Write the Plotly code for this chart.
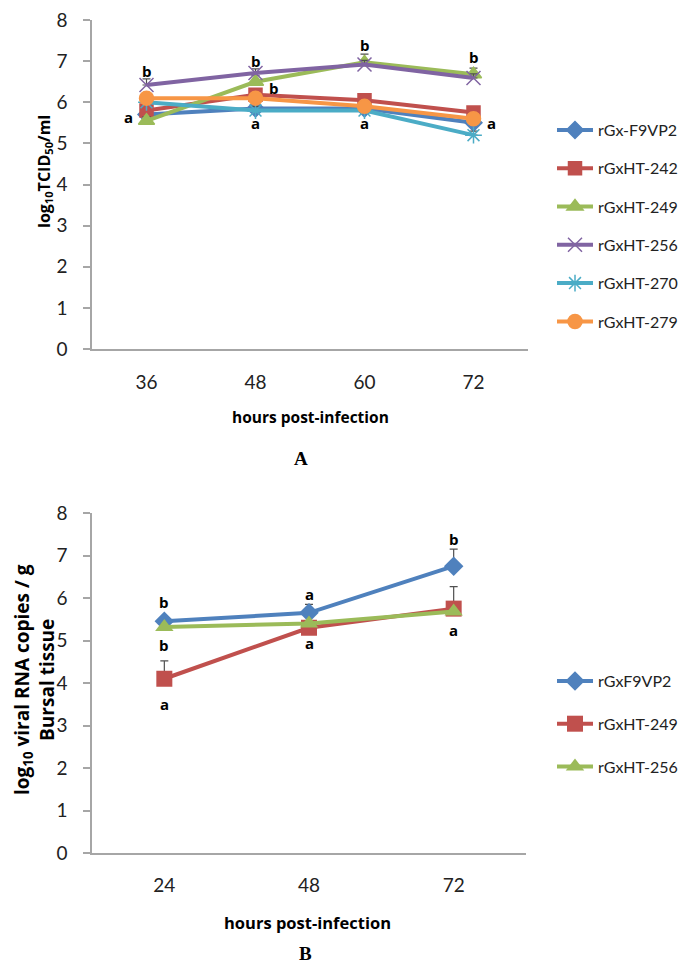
import plotly.graph_objects as go

# ---------------- data: panel A ----------------
hours_A = ["36", "48", "60", "72"]
series_A = ["rGx-F9VP2", "rGxHT-242", "rGxHT-249", "rGxHT-256", "rGxHT-270", "rGxHT-279"]
f9vp2_A = [5.7, 5.85, 5.85, 5.5]
ht242_A = [5.8, 6.18, 6.05, 5.75]
ht249_A = [5.55, 6.5, 6.97, 6.68]
ht256_A = [6.42, 6.71, 6.92, 6.59]
ht270_A = [6.0, 5.8, 5.8, 5.2]
ht279_A = [6.1, 6.1, 5.9, 5.6]
err_f9vp2_A = [0.1, 0.1, 0.1, 0.1]
err_ht242_A = [0.1, 0.1, 0.1, 0.1]
err_ht249_A = [0.1, 0.15, 0.2, 0.15]
err_ht256_A = [0.15, 0.1, 0.1, 0.1]
err_ht270_A = [0.1, 0.1, 0.1, 0.1]
err_ht279_A = [0.1, 0.1, 0.1, 0.1]
letters_A_x = ["36", "36", "48", "48", "48", "60", "60", "72", "72"]
letters_A_y = [6.75, 5.65, 7.0, 6.35, 5.5, 7.4, 5.5, 7.1, 5.5]
letters_A_t = ["b", "a", "b", "b", "a", "b", "a", "b", "a"]
letters_A_side = [0, -1, 0, 1, 0, 0, 0, 0, 1]

# ---------------- data: panel B ----------------
hours_B = ["24", "48", "72"]
series_B = ["rGxF9VP2", "rGxHT-249", "rGxHT-256"]
f9vp2_B = [5.45, 5.65, 6.75]
ht249_B = [4.1, 5.3, 5.75]
ht256_B = [5.32, 5.4, 5.68]
err_f9vp2_B = [0.1, 0.2, 0.4]
err_ht249_B = [0.42, 0.1, 0.52]
err_ht256_B = [0.05, 0.05, 0.05]
letters_B_x = ["24", "24", "24", "48", "48", "72", "72"]
letters_B_y = [5.9, 4.9, 3.5, 6.1, 4.95, 7.4, 5.25]
letters_B_t = ["b", "b", "a", "a", "a", "b", "a"]

y_ticks = [0, 1, 2, 3, 4, 5, 6, 7, 8]

# ---------------- styles ----------------
BLUE, RED, GREEN, PURPLE, CYAN, ORANGE = "#4F81BD", "#C0504D", "#9BBB59", "#8064A2", "#4BACC6", "#F79646"
FONT = "Lato"
W, H = 698, 972


def px_x(x):
    return x / W


def px_y(y):
    return 1 - y / H


pos_A = list(range(len(hours_A)))
pos_B = list(range(len(hours_B)))

fig = go.Figure()

styles_A = [
    (BLUE, "diamond", 13),
    (RED, "square", 13),
    (GREEN, "triangle-up", 14),
    (PURPLE, "x-thin-open", 14),
    (CYAN, "asterisk-open", 14),
    (ORANGE, "circle", 14),
]
vals_A = [f9vp2_A, ht242_A, ht249_A, ht256_A, ht270_A, ht279_A]
errs_A = [err_f9vp2_A, err_ht242_A, err_ht249_A, err_ht256_A, err_ht270_A, err_ht279_A]

for name, vals, errs, (col, sym, sz) in zip(series_A, vals_A, errs_A, styles_A):
    fig.add_trace(go.Scatter(
        x=pos_A, y=vals, name=name, mode="lines+markers",
        line=dict(color=col, width=4),
        marker=dict(symbol=sym, size=sz, color=col, line=dict(color=col, width=1.5)),
        error_y=dict(type="data", array=errs, arrayminus=[0] * len(errs), symmetric=False,
                     color="#505050", thickness=1.2, width=4),
        xaxis="x", yaxis="y", legend="legend", legendgroup=name,
    ))

styles_B = [
    (BLUE, "diamond", 15),
    (RED, "square", 16),
    (GREEN, "triangle-up", 16),
]
vals_B = [f9vp2_B, ht249_B, ht256_B]
errs_B = [err_f9vp2_B, err_ht249_B, err_ht256_B]
for name, vals, errs, (col, sym, sz) in zip(series_B, vals_B, errs_B, styles_B):
    fig.add_trace(go.Scatter(
        x=pos_B, y=vals, name=name, mode="lines+markers",
        line=dict(color=col, width=4),
        marker=dict(symbol=sym, size=sz, color=col),
        error_y=dict(type="data", array=errs, arrayminus=[0] * len(errs), symmetric=False,
                     color="#505050", thickness=1.2, width=4),
        xaxis="x2", yaxis="y2", legend="legend2", legendgroup="B" + name,
    ))

axis_common = dict(showline=True, linecolor="#A6A6A6", linewidth=1.5, showgrid=False,
                   zeroline=False, automargin=False,
                   tickfont=dict(family=FONT, size=19, color="#222"))
yaxis_common = dict(axis_common, range=[0, 8], tickvals=y_ticks, ticks="outside", ticklen=7,
                    tickcolor="#A6A6A6", tickwidth=1.5, ticklabelstandoff=12)

fig.update_layout(
    template="none",
    width=W, height=H, margin=dict(l=0, r=0, t=0, b=0, autoexpand=False),
    paper_bgcolor="white", plot_bgcolor="white",
    showlegend=True,
    xaxis=dict(axis_common, domain=[px_x(92), px_x(528)], anchor="y",
               range=[-0.5, len(hours_A) - 0.5], tickvals=pos_A, ticktext=hours_A,
               ticks="", ticklabelstandoff=15),
    yaxis=dict(yaxis_common, domain=[px_y(349), px_y(20)], anchor="x"),
    xaxis2=dict(axis_common, domain=[px_x(92), px_x(526)], anchor="y2",
                range=[-0.5, len(hours_B) - 0.5], tickvals=pos_B, ticktext=hours_B,
                ticks="", ticklabelstandoff=14),
    yaxis2=dict(yaxis_common, domain=[px_y(853), px_y(513)], anchor="x2"),
    legend=dict(x=px_x(552), y=px_y(113), xanchor="left", yanchor="top",
                font=dict(family=FONT, size=16, color="#222"), tracegroupgap=14.5,
                bgcolor="rgba(0,0,0,0)", itemwidth=36, borderwidth=0),
    legend2=dict(x=px_x(552), y=px_y(664), xanchor="left", yanchor="top",
                 font=dict(family=FONT, size=16, color="#222"), tracegroupgap=19,
                 bgcolor="rgba(0,0,0,0)", itemwidth=36, borderwidth=0),
)

letter_font = dict(family="Open Sans", size=15, color="black")
annotations = []
for x, y, t, side in zip(letters_A_x, letters_A_y, letters_A_t, letters_A_side):
    annotations.append(dict(x=hours_A.index(x), y=y, xref="x", yref="y", text="<b>" + t + "</b>",
                            showarrow=False, xshift=side * 18, xanchor="center", yanchor="middle",
                            font=letter_font))
for x, y, t in zip(letters_B_x, letters_B_y, letters_B_t):
    annotations.append(dict(x=hours_B.index(x), y=y, xref="x2", yref="y2", text="<b>" + t + "</b>",
                            showarrow=False, xanchor="center", yanchor="middle", font=letter_font))

title_font = dict(family="Open Sans", color="black")
annotations += [
    dict(x=px_x(45), y=px_y(172), textangle=-90,
         text="<b>log<sub>10</sub>TCID<sub>50</sub>/ml</b>", font=dict(title_font, size=16)),
    dict(x=px_x(310), y=px_y(417),
         text="<b>hours post-infection</b>", font=dict(title_font, size=15.5)),
    dict(x=px_x(301), y=px_y(458),
         text="<b>A</b>", font=dict(family="Liberation Serif", size=19, color="black")),
    dict(x=px_x(34), y=px_y(680), textangle=-90,
         text="<b>log<sub>10</sub> viral RNA copies / g<br>Bursal tissue</b>",
         font=dict(title_font, size=19)),
    dict(x=px_x(307), y=px_y(922),
         text="<b>hours post-infection</b>", font=dict(title_font, size=16.5)),
    dict(x=px_x(305), y=px_y(953),
         text="<b>B</b>", font=dict(family="Liberation Serif", size=19, color="black")),
]
for a in annotations[-6:]:
    a.update(xref="paper", yref="paper", showarrow=False, xanchor="center", yanchor="middle")
fig.update_layout(annotations=annotations)

fig.write_html("out.html", config={"displayModeBar": False},
               post_script="document.body.style.margin='0px';")
